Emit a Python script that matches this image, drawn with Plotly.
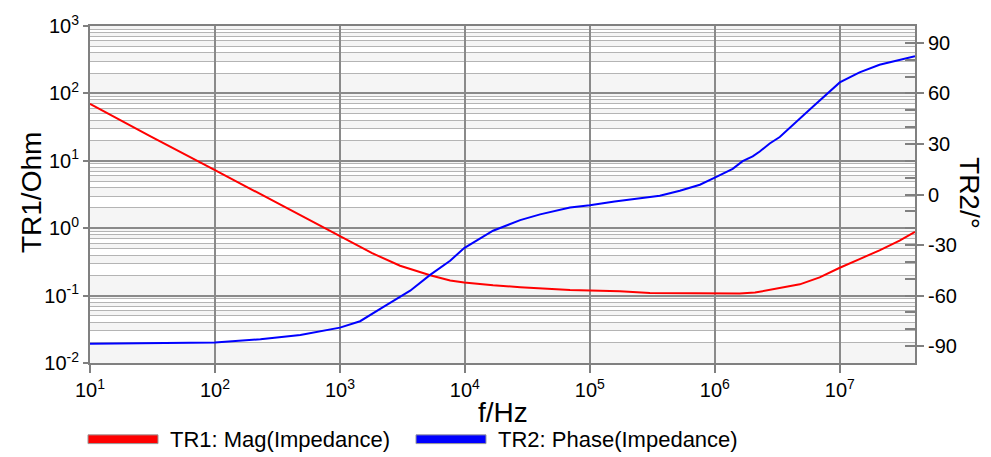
import numpy as np
import plotly.graph_objects as go

# ---------------- data ----------------
freq_mag = [10, 30, 100, 300, 1000, 1450, 1810, 3030, 5270, 7620, 9870, 16800, 27700,
            69400, 83400, 174000, 302000, 759000, 1.32e6, 1.58e6, 2.1e6, 2.75e6,
            4.79e6, 6.9e6, 1e7, 1.44e7, 2.08e7, 3.01e7, 4e7]
mag_ohm = [70, 23.4, 7.28, 2.5, 0.78, 0.537, 0.426, 0.277, 0.20, 0.168, 0.157, 0.1425, 0.133,
           0.121, 0.120, 0.1156, 0.109, 0.107, 0.106, 0.107, 0.111, 0.121,
           0.147, 0.186, 0.259, 0.348, 0.47, 0.655, 0.88]

freq_phase = [10, 30, 76, 100, 231, 482, 1000, 1450, 2100, 3650, 5270, 7620, 9870, 16800,
              27700, 40000, 69400, 100000, 158000, 251000, 363000, 525000, 759000, 1e6,
              1.39e6, 1.67e6, 2.01e6, 2.29e6, 2.75e6, 3.31e6, 3.98e6, 4.79e6, 5.93e6,
              1e7, 1.44e7, 2.08e7, 3.01e7, 4e7]
phase_deg = [-88.6, -88.4, -88.2, -87.8, -85.9, -83.4, -79.0, -75.2, -67.9, -57.1, -47.7,
             -39.3, -31.8, -21.5, -15.2, -11.8, -7.7, -6.4, -4.1, -2.0, -0.7, 2.2, 5.8, 10.0,
             15.2, 19.8, 22.6, 25.5, 30.3, 34.1, 39.4, 44.6, 51.3,
             66.5, 72.5, 77.0, 80.0, 82.0]

series_names = ["TR1: Mag(Impedance)", "TR2: Phase(Impedance)"]
series_colors = ["#ff0000", "#0000ff"]

x_tickvals = [1e1, 1e2, 1e3, 1e4, 1e5, 1e6, 1e7]
x_ticktext = ["10<sup>1</sup>", "10<sup>2</sup>", "10<sup>3</sup>", "10<sup>4</sup>",
              "10<sup>5</sup>", "10<sup>6</sup>", "10<sup>7</sup>"]
y1_tickvals = [1e-2, 1e-1, 1e0, 1e1, 1e2, 1e3]
y1_ticktext = ["10<sup>-2</sup>", "10<sup>-1</sup>", "10<sup>0</sup>", "10<sup>1</sup>",
               "10<sup>2</sup>", "10<sup>3</sup>"]
y2_tickvals = [-90, -60, -30, 0, 30, 60, 90]
y2_ticktext = ["-90", "-60", "-30", "0", "30", "60", "90"]

x_title = "f/Hz"
y1_title = "TR1/Ohm"
y2_title = "TR2/°"

# ---------------- styling ----------------
FONT = "Liberation Sans, Arial, sans-serif"
AX = "#808080"
W, H = 991, 457
ML, MR, MT, MB = 90, 76, 16, 94
PW, PH = W - ML - MR, H - MT - MB


def px_x(px):
    return (px - ML) / PW


def px_y(py):
    return (H - MB - py) / PH


minor_vals = [j * 10.0 ** k for k in range(-2, 3) for j in range(2, 10)]

fig = go.Figure()
fig.add_trace(go.Scatter(x=freq_mag, y=mag_ohm, mode="lines", name=series_names[0],
                         line=dict(color=series_colors[0], width=2), showlegend=False))
fig.add_trace(go.Scatter(x=freq_phase, y=phase_deg, mode="lines", name=series_names[1],
                         line=dict(color=series_colors[1], width=2), yaxis="y2",
                         showlegend=False))
fig.add_trace(go.Scatter(x=[None], y=[None], yaxis="y3", showlegend=False,
                         hoverinfo="skip"))

shapes = []
for k in range(-2, 3):
    for j in (1, 3, 5, 7, 9):
        shapes.append(dict(type="rect", xref="paper", yref="y", x0=0, x1=1,
                           y0=j * 10.0 ** k, y1=(j + 1) * 10.0 ** k,
                           fillcolor="#f5f5f5", line=dict(width=0), layer="below"))

# legend swatches (manual legend)
legend_px = [(88, 158, 168), (416, 486, 496)]
annotations = []
for (x0, x1, xt), name, color in zip(legend_px, series_names, series_colors):
    shapes.append(dict(type="rect", xref="paper", yref="paper",
                       x0=px_x(x0), x1=px_x(x1), y0=px_y(446), y1=px_y(437),
                       fillcolor=color, line=dict(color="#999999", width=1)))
    annotations.append(dict(text=name, xref="paper", yref="paper", x=px_x(xt), y=px_y(441.5),
                            xanchor="left", yanchor="middle", showarrow=False,
                            font=dict(family=FONT, size=22, color="black")))

annotations += [
    dict(text=y1_title, xref="paper", yref="paper", x=px_x(31), y=px_y(188), textangle=-90,
         xanchor="center", yanchor="middle", showarrow=False,
         font=dict(family=FONT, size=28, color="black")),
    dict(text=y2_title, xref="paper", yref="paper", x=px_x(970), y=px_y(188), textangle=90,
         xanchor="center", yanchor="middle", showarrow=False,
         font=dict(family=FONT, size=28, color="black")),
    dict(text=x_title, xref="paper", yref="paper", x=px_x(503), y=px_y(414),
         xanchor="center", yanchor="middle", showarrow=False,
         font=dict(family=FONT, size=28, color="black")),
]

tickfont = dict(family=FONT, size=20, color="black")

fig.update_layout(
    width=W, height=H,
    margin=dict(l=ML, r=MR, t=MT, b=MB, pad=0),
    paper_bgcolor="white", plot_bgcolor="white",
    font=dict(family=FONT, color="black"),
    showlegend=False,
    shapes=shapes,
    annotations=annotations,
    xaxis=dict(type="log", range=[1, np.log10(4e7)], tickvals=x_tickvals, ticktext=x_ticktext,
               ticks="outside", ticklen=8, tickwidth=1.5, tickcolor=AX,
               showline=True, linecolor=AX, linewidth=2, mirror=True,
               showgrid=True, gridcolor="#8a8a8a", gridwidth=1.5, zeroline=False,
               tickfont=tickfont),
    yaxis=dict(type="log", range=[-2, 3], tickvals=y1_tickvals, ticktext=y1_ticktext,
               ticks="outside", ticklen=5, tickwidth=1.5, tickcolor=AX,
               showline=True, linecolor=AX, linewidth=2,
               showgrid=True, gridcolor="#8a8a8a", gridwidth=1.5, zeroline=False,
               minor=dict(tickvals=minor_vals, showgrid=True, gridcolor="#b4b4b4",
                          gridwidth=1, ticks=""),
               tickfont=tickfont),
    yaxis2=dict(overlaying="y", side="right", anchor="x", range=[-100, 100],
                tickvals=y2_tickvals, ticktext=y2_ticktext,
                ticks="outside", ticklen=7, tickwidth=1.5, tickcolor=AX,
                showline=True, linecolor=AX, linewidth=2,
                showgrid=False, zeroline=False, tickfont=tickfont),
    yaxis3=dict(overlaying="y", side="right", anchor="x", range=[-100, 100],
                tickvals=list(range(-90, 100, 10)), ticks="inside", ticklen=10,
                tickwidth=1.5, tickcolor=AX, showticklabels=False,
                showline=False, showgrid=False, zeroline=False),
)

fig.write_html("out.html")
